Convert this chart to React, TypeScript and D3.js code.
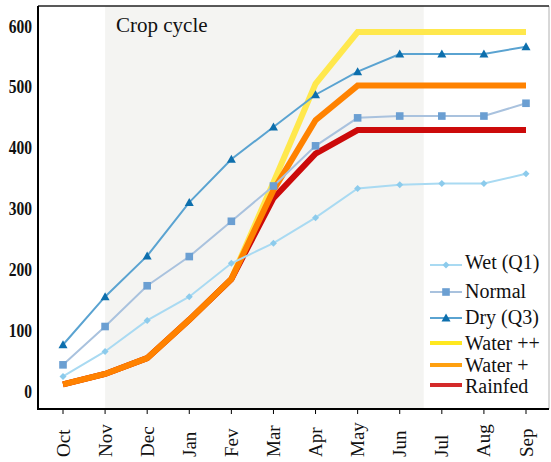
import React from "react";
import * as d3 from "d3";

const months = ["Oct", "Nov", "Dec", "Jan", "Fev", "Mar", "Apr", "May", "Jun", "Jul", "Aug", "Sep"];
const yTicks = [0, 100, 200, 300, 400, 500, 600];

const wet = [24, 65, 116, 155, 210, 243, 285, 333, 339, 341, 341, 357];
const normal = [43, 106, 173, 221, 279, 337, 403, 449, 452, 452, 452, 473];
const dry = [76, 155, 222, 310, 381, 434, 487, 525, 554, 554, 554, 566];
const waterPP = [11, 28, 54, 117, 184, 343, 505, 590, 590, 590, 590, 590];
const waterP = [11, 28, 54, 117, 184, 330, 445, 502, 502, 502, 502, 502];
const rainfed = [11, 28, 54, 117, 184, 317, 390, 429, 429, 429, 429, 429];

const W = 551, H = 462;
const left = 38, right = 549, top = 6, bottom = 409;
const SERIF = "'Liberation Serif', 'Times New Roman', Times, serif";

export default function App() {
  const x = d3.scaleLinear().domain([0, 11]).range([63, 526]);
  const y = d3.scaleLinear().domain([0, 600]).range([391, 26]);
  const line = d3.line<number>().x((_, i) => x(i)).y((v) => y(v));

  const thin = [
    { name: "Wet (Q1)", data: wet, line: "#a9daf2", mark: "#8ccbec", shape: "diamond" },
    { name: "Normal", data: normal, line: "#a9c2de", mark: "#6b9fd2", shape: "square" },
    { name: "Dry (Q3)", data: dry, line: "#5aa3d1", mark: "#0d6fad", shape: "triangle" },
  ];
  const thick = [
    { name: "Water ++", data: waterPP, color: "#ffe84d", legend: "#ffe820" },
    { name: "Rainfed", data: rainfed, color: "#cc0a0a", legend: "#d42a2a" },
    { name: "Water +", data: waterP, color: "#ff8200", legend: "#ffa010" },
  ];
  const legendOrder = [thick[0], thick[2], thick[1]];

  const marker = (shape: string, cx: number, cy: number, color: string, key: string) => {
    if (shape === "diamond") {
      const s = 3.5;
      return <path key={key} d={`M${cx},${cy - s}L${cx + s},${cy}L${cx},${cy + s}L${cx - s},${cy}Z`} fill={color} />;
    }
    if (shape === "square") {
      const s = 3.8;
      return <rect key={key} x={cx - s} y={cy - s} width={2 * s} height={2 * s} fill={color} />;
    }
    const s = 4.5;
    return <path key={key} d={`M${cx},${cy - s}L${cx + s},${cy + s * 0.8}L${cx - s},${cy + s * 0.8}Z`} fill={color} />;
  };

  const legendX0 = 430, legendX1 = 462;
  const legendY = [265, 292, 318, 343, 365, 385];
  const legendBase = [269, 298, 324, 350, 372, 393];

  return (
    <svg width={W} height={H} style={{ position: "absolute", left: 0, top: 0, background: "#fff", fontFamily: SERIF }}>
      <rect x={x(1)} y={top} width={x(8.57) - x(1)} height={bottom - top} fill="#f4f4f2" />
      <line x1={right} x2={right} y1={top} y2={bottom} stroke="#b0b0b0" strokeWidth={1} />
      <line x1={left} x2={right} y1={top} y2={top} stroke="#222" strokeWidth={1.6} />
      <text x={116} y={32} fontSize={21} fill="#111" style={{ fontFamily: SERIF }}>Crop cycle</text>

      {thick.map((s) => (
        <path key={s.name} d={line(s.data) || ""} fill="none" stroke={s.color} strokeWidth={6} strokeLinejoin="miter" />
      ))}
      {thin.map((s) => (
        <g key={s.name}>
          <path d={line(s.data) || ""} fill="none" stroke={s.line} strokeWidth={2} />
          {s.data.map((v, i) => marker(s.shape, x(i), y(v), s.mark, `${s.name}-${i}`))}
        </g>
      ))}

      <line x1={left} x2={left} y1={top} y2={bottom + 1} stroke="#000" strokeWidth={2} />
      <line x1={left - 1} x2={right} y1={bottom} y2={bottom} stroke="#000" strokeWidth={2} />
      {months.map((m, i) => (
        <g key={m}>
          <line x1={x(i)} x2={x(i)} y1={bottom} y2={bottom + 5} stroke="#000" strokeWidth={1} />
          <text transform={`translate(${x(i) + 6.5},457) rotate(-90)`} textAnchor="start" fontSize={19} fill="#111" style={{ fontFamily: SERIF }}>{m}</text>
        </g>
      ))}
      {yTicks.map((t) => (
        <text key={t} transform={`translate(32,${y(t) + 6.5}) scale(0.82,1)`} textAnchor="end" fontSize={19} fontWeight="bold" fill="#111" style={{ fontFamily: SERIF }}>{t}</text>
      ))}

      {thin.map((s, k) => (
        <g key={s.name}>
          <line x1={legendX0} x2={legendX1} y1={legendY[k]} y2={legendY[k]} stroke={s.line} strokeWidth={2} />
          {marker(s.shape, (legendX0 + legendX1) / 2, legendY[k], s.mark, `lg-${k}`)}
          <text x={465} y={legendBase[k]} fontSize={20} fill="#111" style={{ fontFamily: SERIF }}>{s.name}</text>
        </g>
      ))}
      {legendOrder.map((s, k) => (
        <g key={s.name}>
          <line x1={legendX0} x2={legendX1} y1={legendY[k + 3]} y2={legendY[k + 3]} stroke={s.legend} strokeWidth={4} />
          <text x={465} y={legendBase[k + 3]} fontSize={20} fill="#111" style={{ fontFamily: SERIF }}>{s.name}</text>
        </g>
      ))}
    </svg>
  );
}
